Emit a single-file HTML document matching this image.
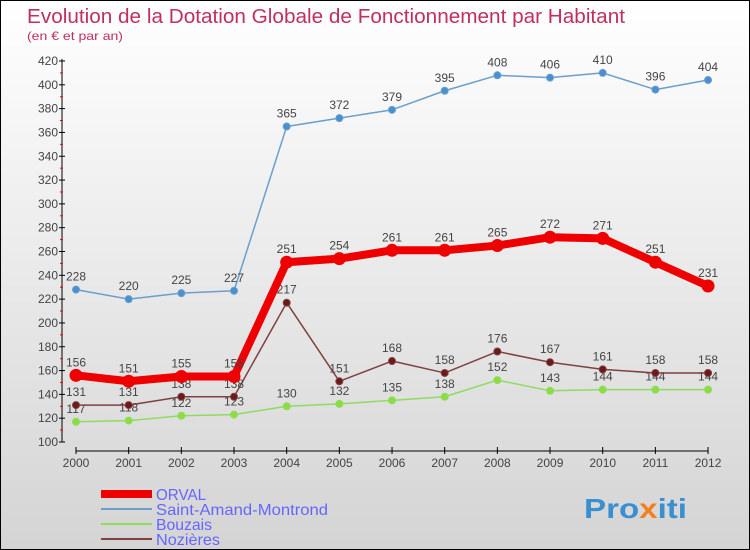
<!DOCTYPE html>
<html><head><meta charset="utf-8"><style>
body{margin:0}
#c{width:748px;height:548px;border:1px solid #000;background:linear-gradient(#fff,#d4d4d4);position:relative;font-family:"Liberation Sans",sans-serif;overflow:hidden}
</style></head><body>
<div id="c">
<svg width="748" height="548" id="s">
<text x="26" y="22" font-size="20" fill="#c0305a" textLength="598" lengthAdjust="spacingAndGlyphs">Evolution de la Dotation Globale de Fonctionnement par Habitant</text>
<text x="26" y="39" font-size="12" fill="#c0305a" textLength="96" lengthAdjust="spacingAndGlyphs">(en € et par an)</text>
<g id="ax"></g><g id="ser"></g>
<g>
<rect x="100" y="489" width="51" height="8" fill="#e00"/>
<text x="155" y="499" font-size="16" fill="#66f" textLength="50" lengthAdjust="spacingAndGlyphs">ORVAL</text>
<line x1="100" y1="508" x2="151" y2="508" stroke="#6a9fcc" stroke-width="2"/>
<text x="155" y="514" font-size="16" fill="#66f" textLength="172" lengthAdjust="spacingAndGlyphs">Saint-Amand-Montrond</text>
<line x1="100" y1="523" x2="151" y2="523" stroke="#8ddc60" stroke-width="2"/>
<text x="155" y="529" font-size="16" fill="#66f" textLength="56" lengthAdjust="spacingAndGlyphs">Bouzais</text>
<line x1="100" y1="538" x2="151" y2="538" stroke="#804040" stroke-width="2"/>
<text x="155" y="544" font-size="16" fill="#66f" textLength="64" lengthAdjust="spacingAndGlyphs">Nozières</text>
</g>
<text x="583" y="517" font-size="28" font-weight="bold" fill="#3a8fd0" textLength="103" lengthAdjust="spacingAndGlyphs">Pro<tspan fill="#f08020">x</tspan>iti</text>
</svg></div>
<script>
const years=[2000,2001,2002,2003,2004,2005,2006,2007,2008,2009,2010,2011,2012];
const yTicks=[100,120,140,160,180,200,220,240,260,280,300,320,340,360,380,400,420];
const orval=[156,151,155,155,251,254,261,261,265,272,271,251,231];
const saint=[228,220,225,227,365,372,379,395,408,406,410,396,404];
const bouzais=[117,118,122,123,130,132,135,138,152,143,144,144,144];
const noz=[131,131,138,138,217,151,168,158,176,167,161,158,158];
const NS="http://www.w3.org/2000/svg";
const X=i=>75+i*52.67, Y=v=>441-(v-100)*381/320;
function mk(t,a,p){const e=document.createElementNS(NS,t);for(const k in a)e.setAttribute(k,a[k]);p.appendChild(e);return e;}
const ax=document.getElementById('ax');
let e=mk('line',{x1:61,y1:58,x2:61,y2:441,stroke:'#000'},ax);


e=mk('line',{x1:75,y1:450,x2:707,y2:450,stroke:'#000'},ax);


yTicks.forEach(v=>{mk('line',{x1:58,x2:64,y1:Y(v),y2:Y(v),stroke:'#000'},ax);
if(v<420)mk('line',{x1:59,x2:62,y1:Y(v+10),y2:Y(v+10),stroke:'#e00'},ax);
const t=mk('text',{x:57,y:Y(v)+4,'text-anchor':'end','font-size':12,fill:'#444'},ax);t.textContent=v;

});
years.forEach((y,i)=>{mk('line',{x1:X(i),x2:X(i),y1:446,y2:453,stroke:'#000'},ax);
const t=mk('text',{x:X(i),y:466,'text-anchor':'middle','font-size':12,fill:'#444'},ax);t.textContent=y;

});
const ser=document.getElementById('ser');
function draw(d,col,w,r,dot,name){
const g=mk('g',{},ser);


const l=mk('polyline',{points:d.map((v,i)=>X(i)+','+Y(v)).join(' '),fill:'none',stroke:col,'stroke-width':w,'stroke-linejoin':'round'},g);


d.forEach((v,i)=>{const c=mk('circle',{cx:X(i),cy:Y(v),r:r,fill:dot,stroke:col,'stroke-width':1},g);


const t=mk('text',{x:X(i),y:Y(v)-9,'text-anchor':'middle','font-size':12,fill:'#444'},g);t.textContent=v;

});}
draw(saint,'#6a9fcc',1.5,3.5,'#4a8fd0','saint-amand');
draw(bouzais,'#8ddc60',1.5,3.5,'#8ddc40','bouzais');
draw(noz,'#804040',1.5,3.5,'#6a1a1a','nozieres');
draw(orval,'#ee0000',8,6,'#ee0000','orval');
</script>
</body></html>
